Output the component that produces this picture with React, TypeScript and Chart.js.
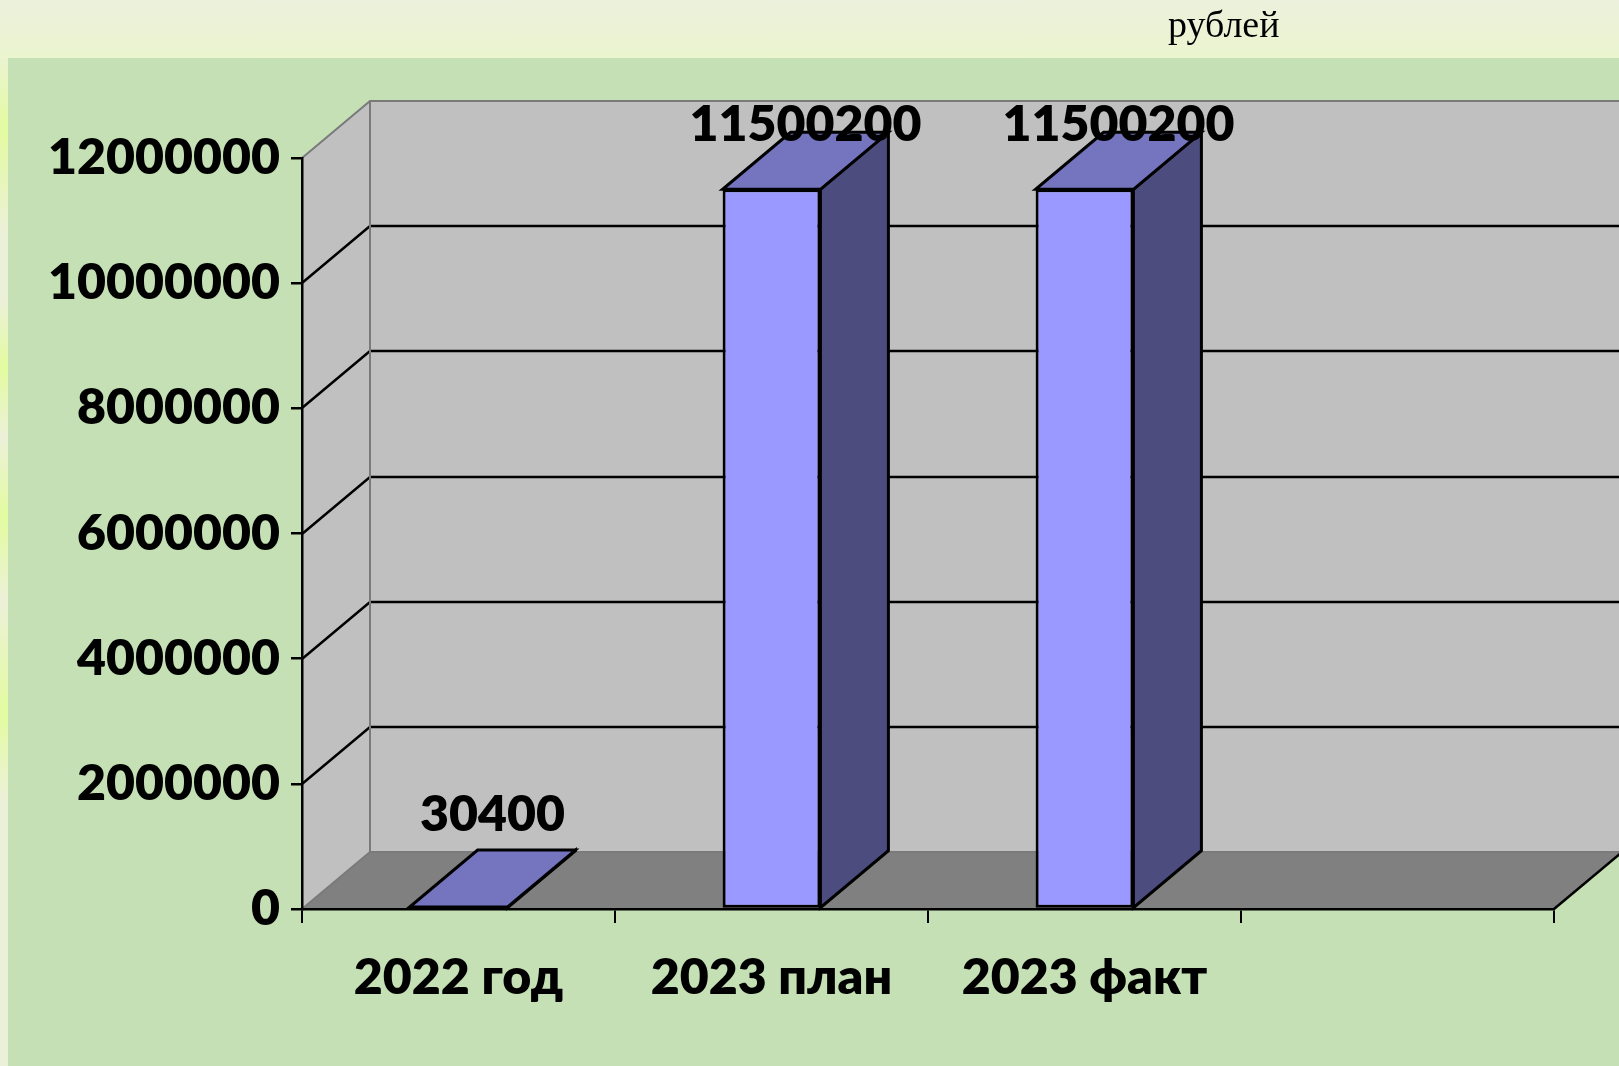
import React, { useEffect, useRef } from "react";
import { Chart, registerables } from "chart.js";

Chart.register(...registerables);

// ---- data ----
const categories: string[] = ["2022 год", "2023 план", "2023 факт", ""];
const amounts: (number | null)[] = [30400, 11500200, 11500200, null];
const yMin = 0;
const yMax = 12000000;
const yStep = 2000000;
const unitText = "рублей";

// ---- styles ----
const FONT = "Lato, 'Open Sans', sans-serif";
const WEIGHT = 800;
const DX = 68;
const DY = 57;
const WALL = "#c0c0c0";
const FLOOR = "#808080";
const EDGE = "#7a7a7a";
const FRONT = "#9999ff";
const TOP = "#7474bf";
const SIDE = "#4c4c7f";

const depthPlugin = {
  id: "depth3d",
  beforeDraw(chart: any) {
    const { ctx, chartArea: a, scales } = chart;
    const ys = scales.y;
    ctx.save();
    // side wall
    ctx.fillStyle = WALL;
    ctx.beginPath();
    ctx.moveTo(a.left, a.bottom);
    ctx.lineTo(a.left, a.top);
    ctx.lineTo(a.left + DX, a.top - DY);
    ctx.lineTo(a.left + DX, a.bottom - DY);
    ctx.closePath();
    ctx.fill();
    // back wall
    ctx.fillRect(a.left + DX, a.top - DY, a.right - a.left, a.bottom - a.top);
    // floor
    ctx.fillStyle = FLOOR;
    ctx.beginPath();
    ctx.moveTo(a.left, a.bottom);
    ctx.lineTo(a.right, a.bottom);
    ctx.lineTo(a.right + DX, a.bottom - DY);
    ctx.lineTo(a.left + DX, a.bottom - DY);
    ctx.closePath();
    ctx.fill();
    // grid lines (side wall diagonal + back wall horizontal)
    ctx.lineWidth = 2.5;
    ctx.strokeStyle = "#000";
    ys.ticks.forEach((t: any) => {
      if (t.value <= yMin || t.value >= yMax) return;
      const py = Math.round(ys.getPixelForValue(t.value));
      ctx.beginPath();
      ctx.moveTo(a.left, py);
      ctx.lineTo(a.left + DX, py - DY);
      ctx.lineTo(a.right + DX, py - DY);
      ctx.stroke();
    });
    // wall edges
    ctx.lineWidth = 2;
    ctx.strokeStyle = EDGE;
    ctx.beginPath();
    ctx.moveTo(a.left, a.top);
    ctx.lineTo(a.left + DX, a.top - DY);
    ctx.lineTo(a.right + DX, a.top - DY);
    ctx.moveTo(a.left + DX, a.top - DY);
    ctx.lineTo(a.left + DX, a.bottom - DY);
    ctx.lineTo(a.right + DX, a.bottom - DY);
    ctx.moveTo(a.left, a.bottom);
    ctx.lineTo(a.left + DX, a.bottom - DY);
    ctx.stroke();
    // floor right edge
    ctx.lineWidth = 2.5;
    ctx.strokeStyle = "#000";
    ctx.beginPath();
    ctx.moveTo(a.right, a.bottom);
    ctx.lineTo(a.right + DX, a.bottom - DY);
    ctx.stroke();
    ctx.restore();
  },
  afterDatasetsDraw(chart: any) {
    const { ctx, chartArea: a } = chart;
    const meta = chart.getDatasetMeta(0);
    ctx.save();
    ctx.lineWidth = 3;
    ctx.strokeStyle = "#000";
    ctx.lineJoin = "miter";
    meta.data.forEach((bar: any, i: number) => {
      const v = amounts[i];
      if (v == null) return;
      const { x, y, base, width } = bar.getProps(["x", "y", "base", "width"], true);
      const l = x - width / 2;
      const r = x + width / 2;
      // side face
      ctx.fillStyle = SIDE;
      ctx.beginPath();
      ctx.moveTo(r, y);
      ctx.lineTo(r, base);
      ctx.lineTo(r + DX, base - DY);
      ctx.lineTo(r + DX, y - DY);
      ctx.closePath();
      ctx.fill();
      ctx.stroke();
      // top face
      ctx.fillStyle = TOP;
      ctx.beginPath();
      ctx.moveTo(l, y);
      ctx.lineTo(r, y);
      ctx.lineTo(r + DX, y - DY);
      ctx.lineTo(l + DX, y - DY);
      ctx.closePath();
      ctx.fill();
      ctx.stroke();
    });
    // data labels
    ctx.fillStyle = "#000";
    ctx.font = `${WEIGHT} 50px ${FONT}`;
    ctx.textAlign = "center";
    ctx.textBaseline = "alphabetic";
    meta.data.forEach((bar: any, i: number) => {
      const v = amounts[i];
      if (v == null) return;
      const { x, y } = bar.getProps(["x", "y"], true);
      const baseline = Math.max(y - DY - 19, a.top - DY + 40);
      ctx.fillText(String(v), x + DX / 2, baseline);
    });
    ctx.restore();
  },
  afterDraw(chart: any) {
    const { ctx } = chart;
    ctx.save();
    ctx.fillStyle = "#000";
    ctx.font = `38px "Liberation Serif", "Times New Roman", serif`;
    ctx.textAlign = "left";
    ctx.textBaseline = "alphabetic";
    ctx.fillText(unitText, 1168, 37);
    ctx.restore();
  },
};

export default function App() {
  const canvasRef = useRef<HTMLCanvasElement | null>(null);

  useEffect(() => {
    if (!canvasRef.current) return;
    const tickFont = { family: FONT, size: 50, weight: WEIGHT as any };
    const chart = new Chart(canvasRef.current, {
      type: "bar",
      data: {
        labels: categories,
        datasets: [
          {
            data: amounts,
            backgroundColor: FRONT,
            borderColor: "#000",
            borderWidth: 3,
            borderSkipped: false,
            barPercentage: 0.3125,
            categoryPercentage: 1,
          },
        ],
      },
      options: {
        responsive: false,
        animation: false,
        devicePixelRatio: 1,
        layout: { padding: { top: 158, right: 65, left: 0, bottom: 0 } },
        plugins: { legend: { display: false }, tooltip: { enabled: false } },
        scales: {
          x: {
            grid: {
              display: true,
              drawOnChartArea: false,
              drawTicks: true,
              tickLength: 14,
              color: "#000",
              lineWidth: 2,
              offset: true,
            },
            border: { display: true, color: "#000", width: 2.5 },
            ticks: {
              font: tickFont,
              color: "#000",
              padding: 25,
              maxRotation: 0,
              autoSkip: false,
            },
            afterFit: (s: any) => {
              s.height = 157;
            },
          },
          y: {
            min: yMin,
            max: yMax,
            grid: {
              display: true,
              drawOnChartArea: false,
              drawTicks: true,
              tickLength: 11,
              color: "#000",
              lineWidth: 2.5,
            },
            border: { display: true, color: "#000", width: 2.5 },
            ticks: {
              stepSize: yStep,
              font: tickFont,
              color: "#000",
              padding: 11,
              callback: (v: any) => String(v),
            },
            afterFit: (s: any) => {
              s.width = 302;
            },
          },
        },
      },
      plugins: [depthPlugin],
    });
    return () => chart.destroy();
  }, []);

  return (
    <div
      style={{
        position: "fixed",
        left: 0,
        top: 0,
        width: 1619,
        height: 1066,
        overflow: "hidden",
      }}
    >
      <div
        style={{
          position: "absolute",
          left: 0,
          top: 0,
          width: 1619,
          height: 58,
          background: "linear-gradient(#ecf0dc, #ebf5cf)",
        }}
      />
      <div
        style={{
          position: "absolute",
          left: 0,
          top: 58,
          width: 8,
          height: 1008,
          background:
            "linear-gradient(#eaf3d0 0px, #e3fba0 72px, #ebf0d8 175px, #ebf0d8 242px, #e3fca0 309px, #ebf0d8 380px, #e3fca0 459px, #ebf0d8 542px, #e3fca0 655px, #ebf0d8 742px, #ebf0d8 1008px)",
        }}
      />
      <div
        style={{
          position: "absolute",
          left: 8,
          top: 58,
          width: 1611,
          height: 1008,
          background: "#c5e0b4",
        }}
      />
      <canvas
        ref={canvasRef}
        width={1619}
        height={1066}
        style={{ position: "absolute", left: 0, top: 0, width: 1619, height: 1066 }}
      />
    </div>
  );
}
